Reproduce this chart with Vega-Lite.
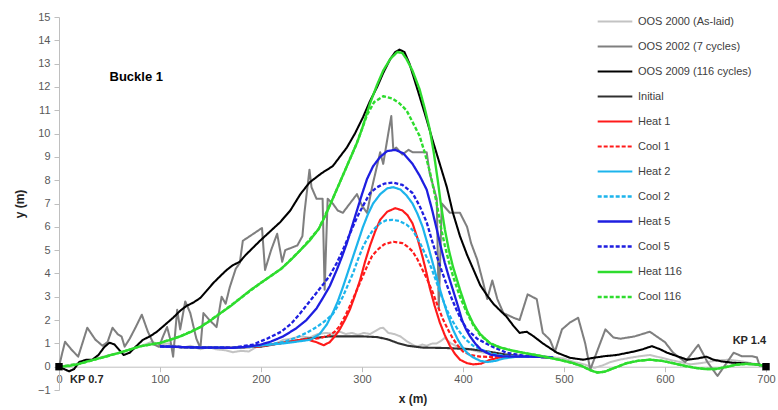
{
  "$schema": "https://vega.github.io/schema/vega-lite/v6.json",
  "width": 707,
  "height": 373,
  "autosize": {"type": "none"},
  "padding": {"left": 59, "top": 17, "right": 12, "bottom": 20},
  "config": {
    "view": {"stroke": null},
    "font": "Liberation Sans",
    "axis": {"labelFont": "Liberation Sans", "titleFont": "Liberation Sans", "labelColor": "#595959", "labelFontSize": 11, "titleFontSize": 12, "titleColor": "#262626", "grid": false, "domainColor": "#bfbfbf", "tickColor": "#bfbfbf", "labelOverlap": false},
    "legend": {"labelFont": "Liberation Sans", "labelFontSize": 11, "labelColor": "#404040"}
  },
  "datasets": {
    "lines": [
      {"s":"OOS 2000 (As-laid)","x":0,"y":0},{"s":"OOS 2000 (As-laid)","x":15,"y":0.1},{"s":"OOS 2000 (As-laid)","x":30,"y":0.25},{"s":"OOS 2000 (As-laid)","x":45,"y":0.45},{"s":"OOS 2000 (As-laid)","x":60,"y":0.6},{"s":"OOS 2000 (As-laid)","x":75,"y":0.8},{"s":"OOS 2000 (As-laid)","x":85,"y":0.95},{"s":"OOS 2000 (As-laid)","x":92,"y":1.07},{"s":"OOS 2000 (As-laid)","x":100,"y":0.95},{"s":"OOS 2000 (As-laid)","x":108,"y":1.0},{"s":"OOS 2000 (As-laid)","x":115,"y":0.85},{"s":"OOS 2000 (As-laid)","x":122,"y":0.8},{"s":"OOS 2000 (As-laid)","x":130,"y":0.9},{"s":"OOS 2000 (As-laid)","x":140,"y":0.75},{"s":"OOS 2000 (As-laid)","x":148,"y":0.85},{"s":"OOS 2000 (As-laid)","x":155,"y":0.75},{"s":"OOS 2000 (As-laid)","x":165,"y":0.7},{"s":"OOS 2000 (As-laid)","x":172,"y":0.62},{"s":"OOS 2000 (As-laid)","x":180,"y":0.68},{"s":"OOS 2000 (As-laid)","x":188,"y":0.65},{"s":"OOS 2000 (As-laid)","x":196,"y":0.86},{"s":"OOS 2000 (As-laid)","x":205,"y":0.9},{"s":"OOS 2000 (As-laid)","x":215,"y":1.0},{"s":"OOS 2000 (As-laid)","x":222,"y":1.15},{"s":"OOS 2000 (As-laid)","x":230,"y":1.2},{"s":"OOS 2000 (As-laid)","x":239,"y":1.3},{"s":"OOS 2000 (As-laid)","x":248,"y":1.25},{"s":"OOS 2000 (As-laid)","x":256,"y":1.4},{"s":"OOS 2000 (As-laid)","x":265,"y":1.45},{"s":"OOS 2000 (As-laid)","x":272,"y":1.4},{"s":"OOS 2000 (As-laid)","x":278,"y":1.5},{"s":"OOS 2000 (As-laid)","x":284,"y":1.4},{"s":"OOS 2000 (As-laid)","x":290,"y":1.45},{"s":"OOS 2000 (As-laid)","x":296,"y":1.37},{"s":"OOS 2000 (As-laid)","x":302,"y":1.45},{"s":"OOS 2000 (As-laid)","x":308,"y":1.4},{"s":"OOS 2000 (As-laid)","x":314,"y":1.55},{"s":"OOS 2000 (As-laid)","x":318,"y":1.65},{"s":"OOS 2000 (As-laid)","x":321,"y":1.67},{"s":"OOS 2000 (As-laid)","x":326,"y":1.45},{"s":"OOS 2000 (As-laid)","x":332,"y":1.4},{"s":"OOS 2000 (As-laid)","x":338,"y":1.3},{"s":"OOS 2000 (As-laid)","x":345,"y":1.07},{"s":"OOS 2000 (As-laid)","x":350,"y":0.95},{"s":"OOS 2000 (As-laid)","x":354,"y":0.86},{"s":"OOS 2000 (As-laid)","x":360,"y":0.95},{"s":"OOS 2000 (As-laid)","x":364,"y":0.9},{"s":"OOS 2000 (As-laid)","x":370,"y":1.0},{"s":"OOS 2000 (As-laid)","x":374,"y":1.0},{"s":"OOS 2000 (As-laid)","x":378,"y":1.1},{"s":"OOS 2000 (As-laid)","x":382,"y":1.24},{"s":"OOS 2000 (As-laid)","x":388,"y":1.0},{"s":"OOS 2000 (As-laid)","x":395,"y":0.85},{"s":"OOS 2000 (As-laid)","x":402,"y":0.8},{"s":"OOS 2000 (As-laid)","x":410,"y":0.7},{"s":"OOS 2000 (As-laid)","x":420,"y":0.6},{"s":"OOS 2000 (As-laid)","x":430,"y":0.55},{"s":"OOS 2000 (As-laid)","x":440,"y":0.5},{"s":"OOS 2000 (As-laid)","x":450,"y":0.5},{"s":"OOS 2000 (As-laid)","x":460,"y":0.45},{"s":"OOS 2000 (As-laid)","x":470,"y":0.5},{"s":"OOS 2000 (As-laid)","x":480,"y":0.45},{"s":"OOS 2000 (As-laid)","x":490,"y":0.4},{"s":"OOS 2000 (As-laid)","x":500,"y":0.35},{"s":"OOS 2000 (As-laid)","x":510,"y":0.2},{"s":"OOS 2000 (As-laid)","x":520,"y":0.1},{"s":"OOS 2000 (As-laid)","x":530,"y":-0.05},{"s":"OOS 2000 (As-laid)","x":538,"y":0.05},{"s":"OOS 2000 (As-laid)","x":546,"y":0.2},{"s":"OOS 2000 (As-laid)","x":555,"y":0.3},{"s":"OOS 2000 (As-laid)","x":565,"y":0.38},{"s":"OOS 2000 (As-laid)","x":575,"y":0.45},{"s":"OOS 2000 (As-laid)","x":585,"y":0.5},{"s":"OOS 2000 (As-laid)","x":595,"y":0.4},{"s":"OOS 2000 (As-laid)","x":604,"y":0.3},{"s":"OOS 2000 (As-laid)","x":615,"y":0.2},{"s":"OOS 2000 (As-laid)","x":625,"y":0.1},{"s":"OOS 2000 (As-laid)","x":635,"y":0.15},{"s":"OOS 2000 (As-laid)","x":645,"y":0.22},{"s":"OOS 2000 (As-laid)","x":655,"y":0.28},{"s":"OOS 2000 (As-laid)","x":664,"y":0.3},{"s":"OOS 2000 (As-laid)","x":677,"y":0.22},{"s":"OOS 2000 (As-laid)","x":691,"y":0.1},{"s":"OOS 2000 (As-laid)","x":700,"y":0.05},

      {"s":"OOS 2002 (7 cycles)","x":0,"y":0},{"s":"OOS 2002 (7 cycles)","x":3,"y":0.55},{"s":"OOS 2002 (7 cycles)","x":6,"y":1.07},{"s":"OOS 2002 (7 cycles)","x":12,"y":0.75},{"s":"OOS 2002 (7 cycles)","x":19,"y":0.43},{"s":"OOS 2002 (7 cycles)","x":28,"y":1.67},{"s":"OOS 2002 (7 cycles)","x":36,"y":1.16},{"s":"OOS 2002 (7 cycles)","x":43,"y":0.9},{"s":"OOS 2002 (7 cycles)","x":48,"y":1.05},{"s":"OOS 2002 (7 cycles)","x":53,"y":1.67},{"s":"OOS 2002 (7 cycles)","x":58,"y":1.4},{"s":"OOS 2002 (7 cycles)","x":62,"y":1.29},{"s":"OOS 2002 (7 cycles)","x":65,"y":0.86},{"s":"OOS 2002 (7 cycles)","x":70,"y":1.2},{"s":"OOS 2002 (7 cycles)","x":76,"y":1.7},{"s":"OOS 2002 (7 cycles)","x":82,"y":2.23},{"s":"OOS 2002 (7 cycles)","x":88,"y":1.5},{"s":"OOS 2002 (7 cycles)","x":94,"y":0.95},{"s":"OOS 2002 (7 cycles)","x":99,"y":0.85},{"s":"OOS 2002 (7 cycles)","x":103,"y":1.3},{"s":"OOS 2002 (7 cycles)","x":107,"y":1.7},{"s":"OOS 2002 (7 cycles)","x":110,"y":1.2},{"s":"OOS 2002 (7 cycles)","x":113,"y":0.43},{"s":"OOS 2002 (7 cycles)","x":117,"y":2.44},{"s":"OOS 2002 (7 cycles)","x":120,"y":1.6},{"s":"OOS 2002 (7 cycles)","x":125,"y":2.8},{"s":"OOS 2002 (7 cycles)","x":130,"y":2.3},{"s":"OOS 2002 (7 cycles)","x":136,"y":1.2},{"s":"OOS 2002 (7 cycles)","x":140,"y":0.8},{"s":"OOS 2002 (7 cycles)","x":143,"y":2.3},{"s":"OOS 2002 (7 cycles)","x":149,"y":2.0},{"s":"OOS 2002 (7 cycles)","x":156,"y":1.7},{"s":"OOS 2002 (7 cycles)","x":161,"y":3.0},{"s":"OOS 2002 (7 cycles)","x":165,"y":2.7},{"s":"OOS 2002 (7 cycles)","x":169,"y":3.4},{"s":"OOS 2002 (7 cycles)","x":175,"y":4.2},{"s":"OOS 2002 (7 cycles)","x":179,"y":4.45},{"s":"OOS 2002 (7 cycles)","x":182,"y":5.4},{"s":"OOS 2002 (7 cycles)","x":189,"y":5.6},{"s":"OOS 2002 (7 cycles)","x":201,"y":5.95},{"s":"OOS 2002 (7 cycles)","x":204,"y":4.15},{"s":"OOS 2002 (7 cycles)","x":210,"y":5.0},{"s":"OOS 2002 (7 cycles)","x":216,"y":5.7},{"s":"OOS 2002 (7 cycles)","x":221,"y":4.5},{"s":"OOS 2002 (7 cycles)","x":224,"y":5.0},{"s":"OOS 2002 (7 cycles)","x":236,"y":5.2},{"s":"OOS 2002 (7 cycles)","x":241,"y":5.6},{"s":"OOS 2002 (7 cycles)","x":243,"y":6.6},{"s":"OOS 2002 (7 cycles)","x":248,"y":8.45},{"s":"OOS 2002 (7 cycles)","x":250,"y":7.7},{"s":"OOS 2002 (7 cycles)","x":255,"y":7.2},{"s":"OOS 2002 (7 cycles)","x":261,"y":7.2},{"s":"OOS 2002 (7 cycles)","x":263,"y":3.3},{"s":"OOS 2002 (7 cycles)","x":266,"y":7.2},{"s":"OOS 2002 (7 cycles)","x":271,"y":7.0},{"s":"OOS 2002 (7 cycles)","x":276,"y":6.7},{"s":"OOS 2002 (7 cycles)","x":281,"y":6.6},{"s":"OOS 2002 (7 cycles)","x":288,"y":7.0},{"s":"OOS 2002 (7 cycles)","x":295,"y":7.4},{"s":"OOS 2002 (7 cycles)","x":300,"y":6.9},{"s":"OOS 2002 (7 cycles)","x":305,"y":6.6},{"s":"OOS 2002 (7 cycles)","x":310,"y":7.7},{"s":"OOS 2002 (7 cycles)","x":318,"y":9.2},{"s":"OOS 2002 (7 cycles)","x":321,"y":8.7},{"s":"OOS 2002 (7 cycles)","x":326,"y":10.0},{"s":"OOS 2002 (7 cycles)","x":329,"y":10.75},{"s":"OOS 2002 (7 cycles)","x":331,"y":9.3},{"s":"OOS 2002 (7 cycles)","x":334,"y":9.4},{"s":"OOS 2002 (7 cycles)","x":340,"y":9.1},{"s":"OOS 2002 (7 cycles)","x":346,"y":9.3},{"s":"OOS 2002 (7 cycles)","x":350,"y":9.2},{"s":"OOS 2002 (7 cycles)","x":364,"y":9.2},{"s":"OOS 2002 (7 cycles)","x":367,"y":8.3},{"s":"OOS 2002 (7 cycles)","x":374,"y":7.2},{"s":"OOS 2002 (7 cycles)","x":376,"y":2.5},{"s":"OOS 2002 (7 cycles)","x":379,"y":7.0},{"s":"OOS 2002 (7 cycles)","x":387,"y":6.6},{"s":"OOS 2002 (7 cycles)","x":397,"y":6.6},{"s":"OOS 2002 (7 cycles)","x":404,"y":6.0},{"s":"OOS 2002 (7 cycles)","x":408,"y":5.3},{"s":"OOS 2002 (7 cycles)","x":414,"y":4.6},{"s":"OOS 2002 (7 cycles)","x":420,"y":3.6},{"s":"OOS 2002 (7 cycles)","x":424,"y":2.9},{"s":"OOS 2002 (7 cycles)","x":429,"y":3.7},{"s":"OOS 2002 (7 cycles)","x":434,"y":2.9},{"s":"OOS 2002 (7 cycles)","x":440,"y":2.3},{"s":"OOS 2002 (7 cycles)","x":450,"y":2.1},{"s":"OOS 2002 (7 cycles)","x":456,"y":2.0},{"s":"OOS 2002 (7 cycles)","x":464,"y":3.1},{"s":"OOS 2002 (7 cycles)","x":473,"y":2.9},{"s":"OOS 2002 (7 cycles)","x":479,"y":1.45},{"s":"OOS 2002 (7 cycles)","x":486,"y":1.16},{"s":"OOS 2002 (7 cycles)","x":491,"y":0.64},{"s":"OOS 2002 (7 cycles)","x":498,"y":1.6},{"s":"OOS 2002 (7 cycles)","x":506,"y":1.9},{"s":"OOS 2002 (7 cycles)","x":514,"y":2.1},{"s":"OOS 2002 (7 cycles)","x":521,"y":1.0},{"s":"OOS 2002 (7 cycles)","x":526,"y":-0.13},{"s":"OOS 2002 (7 cycles)","x":534,"y":0.8},{"s":"OOS 2002 (7 cycles)","x":541,"y":1.6},{"s":"OOS 2002 (7 cycles)","x":549,"y":1.25},{"s":"OOS 2002 (7 cycles)","x":556,"y":1.2},{"s":"OOS 2002 (7 cycles)","x":570,"y":1.3},{"s":"OOS 2002 (7 cycles)","x":585,"y":1.5},{"s":"OOS 2002 (7 cycles)","x":600,"y":1.05},{"s":"OOS 2002 (7 cycles)","x":608,"y":0.6},{"s":"OOS 2002 (7 cycles)","x":620,"y":0.2},{"s":"OOS 2002 (7 cycles)","x":633,"y":0.94},{"s":"OOS 2002 (7 cycles)","x":642,"y":0.2},{"s":"OOS 2002 (7 cycles)","x":652,"y":-0.4},{"s":"OOS 2002 (7 cycles)","x":668,"y":0.6},{"s":"OOS 2002 (7 cycles)","x":676,"y":0.45},{"s":"OOS 2002 (7 cycles)","x":686,"y":0.45},{"s":"OOS 2002 (7 cycles)","x":691,"y":0.4},{"s":"OOS 2002 (7 cycles)","x":694,"y":0.0},

      {"s":"OOS 2009 (116 cycles)","x":0,"y":0},{"s":"OOS 2009 (116 cycles)","x":5,"y":-0.1},{"s":"OOS 2009 (116 cycles)","x":10,"y":-0.2},{"s":"OOS 2009 (116 cycles)","x":15,"y":-0.1},{"s":"OOS 2009 (116 cycles)","x":20,"y":0.2},{"s":"OOS 2009 (116 cycles)","x":27,"y":0.3},{"s":"OOS 2009 (116 cycles)","x":33,"y":0.3},{"s":"OOS 2009 (116 cycles)","x":39,"y":0.5},{"s":"OOS 2009 (116 cycles)","x":45,"y":0.85},{"s":"OOS 2009 (116 cycles)","x":50,"y":1.03},{"s":"OOS 2009 (116 cycles)","x":55,"y":0.95},{"s":"OOS 2009 (116 cycles)","x":60,"y":0.7},{"s":"OOS 2009 (116 cycles)","x":64,"y":0.5},{"s":"OOS 2009 (116 cycles)","x":70,"y":0.6},{"s":"OOS 2009 (116 cycles)","x":77,"y":0.9},{"s":"OOS 2009 (116 cycles)","x":83,"y":1.15},{"s":"OOS 2009 (116 cycles)","x":90,"y":1.3},{"s":"OOS 2009 (116 cycles)","x":97,"y":1.5},{"s":"OOS 2009 (116 cycles)","x":105,"y":1.8},{"s":"OOS 2009 (116 cycles)","x":113,"y":2.1},{"s":"OOS 2009 (116 cycles)","x":120,"y":2.4},{"s":"OOS 2009 (116 cycles)","x":126,"y":2.6},{"s":"OOS 2009 (116 cycles)","x":133,"y":2.75},{"s":"OOS 2009 (116 cycles)","x":140,"y":2.95},{"s":"OOS 2009 (116 cycles)","x":147,"y":3.3},{"s":"OOS 2009 (116 cycles)","x":153,"y":3.6},{"s":"OOS 2009 (116 cycles)","x":160,"y":3.9},{"s":"OOS 2009 (116 cycles)","x":166,"y":4.15},{"s":"OOS 2009 (116 cycles)","x":172,"y":4.35},{"s":"OOS 2009 (116 cycles)","x":179,"y":4.5},{"s":"OOS 2009 (116 cycles)","x":185,"y":4.8},{"s":"OOS 2009 (116 cycles)","x":192,"y":5.1},{"s":"OOS 2009 (116 cycles)","x":199,"y":5.4},{"s":"OOS 2009 (116 cycles)","x":209,"y":5.8},{"s":"OOS 2009 (116 cycles)","x":219,"y":6.2},{"s":"OOS 2009 (116 cycles)","x":229,"y":6.7},{"s":"OOS 2009 (116 cycles)","x":239,"y":7.4},{"s":"OOS 2009 (116 cycles)","x":248,"y":7.9},{"s":"OOS 2009 (116 cycles)","x":260,"y":8.3},{"s":"OOS 2009 (116 cycles)","x":271,"y":8.6},{"s":"OOS 2009 (116 cycles)","x":285,"y":9.4},{"s":"OOS 2009 (116 cycles)","x":293,"y":10.0},{"s":"OOS 2009 (116 cycles)","x":301,"y":10.7},{"s":"OOS 2009 (116 cycles)","x":308,"y":11.4},{"s":"OOS 2009 (116 cycles)","x":315,"y":12.0},{"s":"OOS 2009 (116 cycles)","x":321,"y":12.6},{"s":"OOS 2009 (116 cycles)","x":328,"y":13.2},{"s":"OOS 2009 (116 cycles)","x":333,"y":13.5},{"s":"OOS 2009 (116 cycles)","x":337,"y":13.6},{"s":"OOS 2009 (116 cycles)","x":342,"y":13.5},{"s":"OOS 2009 (116 cycles)","x":347,"y":13.0},{"s":"OOS 2009 (116 cycles)","x":352,"y":12.3},{"s":"OOS 2009 (116 cycles)","x":357,"y":11.6},{"s":"OOS 2009 (116 cycles)","x":364,"y":10.6},{"s":"OOS 2009 (116 cycles)","x":370,"y":9.7},{"s":"OOS 2009 (116 cycles)","x":377,"y":8.7},{"s":"OOS 2009 (116 cycles)","x":384,"y":7.7},{"s":"OOS 2009 (116 cycles)","x":390,"y":6.6},{"s":"OOS 2009 (116 cycles)","x":397,"y":5.6},{"s":"OOS 2009 (116 cycles)","x":404,"y":4.8},{"s":"OOS 2009 (116 cycles)","x":410,"y":4.2},{"s":"OOS 2009 (116 cycles)","x":417,"y":3.5},{"s":"OOS 2009 (116 cycles)","x":424,"y":3.05},{"s":"OOS 2009 (116 cycles)","x":430,"y":2.7},{"s":"OOS 2009 (116 cycles)","x":437,"y":2.4},{"s":"OOS 2009 (116 cycles)","x":443,"y":2.15},{"s":"OOS 2009 (116 cycles)","x":450,"y":1.75},{"s":"OOS 2009 (116 cycles)","x":456,"y":1.45},{"s":"OOS 2009 (116 cycles)","x":463,"y":1.5},{"s":"OOS 2009 (116 cycles)","x":470,"y":1.3},{"s":"OOS 2009 (116 cycles)","x":479,"y":1.0},{"s":"OOS 2009 (116 cycles)","x":486,"y":0.8},{"s":"OOS 2009 (116 cycles)","x":493,"y":0.6},{"s":"OOS 2009 (116 cycles)","x":506,"y":0.38},{"s":"OOS 2009 (116 cycles)","x":519,"y":0.3},{"s":"OOS 2009 (116 cycles)","x":529,"y":0.38},{"s":"OOS 2009 (116 cycles)","x":540,"y":0.45},{"s":"OOS 2009 (116 cycles)","x":552,"y":0.5},{"s":"OOS 2009 (116 cycles)","x":568,"y":0.64},{"s":"OOS 2009 (116 cycles)","x":578,"y":0.75},{"s":"OOS 2009 (116 cycles)","x":587,"y":0.88},{"s":"OOS 2009 (116 cycles)","x":595,"y":0.75},{"s":"OOS 2009 (116 cycles)","x":602,"y":0.6},{"s":"OOS 2009 (116 cycles)","x":612,"y":0.45},{"s":"OOS 2009 (116 cycles)","x":622,"y":0.3},{"s":"OOS 2009 (116 cycles)","x":632,"y":0.35},{"s":"OOS 2009 (116 cycles)","x":641,"y":0.43},{"s":"OOS 2009 (116 cycles)","x":648,"y":0.3},{"s":"OOS 2009 (116 cycles)","x":657,"y":0.22},{"s":"OOS 2009 (116 cycles)","x":667,"y":0.17},{"s":"OOS 2009 (116 cycles)","x":680,"y":0.14},{"s":"OOS 2009 (116 cycles)","x":694,"y":0.08},{"s":"OOS 2009 (116 cycles)","x":700,"y":0},

      {"s":"Initial","x":100,"y":0.87},{"s":"Initial","x":140,"y":0.82},{"s":"Initial","x":172,"y":0.81},{"s":"Initial","x":200,"y":0.86},{"s":"Initial","x":225,"y":1.05},{"s":"Initial","x":245,"y":1.2},{"s":"Initial","x":268,"y":1.3},{"s":"Initial","x":301,"y":1.3},{"s":"Initial","x":315,"y":1.27},{"s":"Initial","x":325,"y":1.18},{"s":"Initial","x":335,"y":1.02},{"s":"Initial","x":345,"y":0.9},{"s":"Initial","x":360,"y":0.82},{"s":"Initial","x":384,"y":0.8},{"s":"Initial","x":407,"y":0.75},{"s":"Initial","x":425,"y":0.65},{"s":"Initial","x":445,"y":0.5},{"s":"Initial","x":465,"y":0.43},{"s":"Initial","x":485,"y":0.4},

      {"s":"Heat 1","x":100,"y":0.87},{"s":"Heat 1","x":140,"y":0.82},{"s":"Heat 1","x":172,"y":0.81},{"s":"Heat 1","x":200,"y":0.88},{"s":"Heat 1","x":225,"y":1.05},{"s":"Heat 1","x":245,"y":1.18},{"s":"Heat 1","x":255,"y":1.05},{"s":"Heat 1","x":262,"y":0.92},{"s":"Heat 1","x":268,"y":1.05},{"s":"Heat 1","x":273,"y":1.3},{"s":"Heat 1","x":278,"y":1.6},{"s":"Heat 1","x":283,"y":2.0},{"s":"Heat 1","x":288,"y":2.45},{"s":"Heat 1","x":293,"y":3.05},{"s":"Heat 1","x":298,"y":3.7},{"s":"Heat 1","x":303,"y":4.5},{"s":"Heat 1","x":308,"y":5.2},{"s":"Heat 1","x":313,"y":5.8},{"s":"Heat 1","x":318,"y":6.3},{"s":"Heat 1","x":325,"y":6.65},{"s":"Heat 1","x":333,"y":6.8},{"s":"Heat 1","x":340,"y":6.7},{"s":"Heat 1","x":345,"y":6.5},{"s":"Heat 1","x":350,"y":6.15},{"s":"Heat 1","x":355,"y":5.5},{"s":"Heat 1","x":360,"y":4.7},{"s":"Heat 1","x":364,"y":4.0},{"s":"Heat 1","x":367,"y":3.4},{"s":"Heat 1","x":372,"y":2.6},{"s":"Heat 1","x":377,"y":1.9},{"s":"Heat 1","x":382,"y":1.35},{"s":"Heat 1","x":387,"y":0.9},{"s":"Heat 1","x":392,"y":0.55},{"s":"Heat 1","x":397,"y":0.3},{"s":"Heat 1","x":404,"y":0.15},{"s":"Heat 1","x":410,"y":0.1},{"s":"Heat 1","x":418,"y":0.13},{"s":"Heat 1","x":427,"y":0.3},{"s":"Heat 1","x":437,"y":0.4},{"s":"Heat 1","x":450,"y":0.43},{"s":"Heat 1","x":470,"y":0.43},{"s":"Heat 1","x":485,"y":0.4},

      {"s":"Cool 1","x":100,"y":0.87},{"s":"Cool 1","x":140,"y":0.82},{"s":"Cool 1","x":172,"y":0.81},{"s":"Cool 1","x":200,"y":0.88},{"s":"Cool 1","x":225,"y":1.05},{"s":"Cool 1","x":245,"y":1.18},{"s":"Cool 1","x":258,"y":1.22},{"s":"Cool 1","x":268,"y":1.35},{"s":"Cool 1","x":273,"y":1.5},{"s":"Cool 1","x":278,"y":1.75},{"s":"Cool 1","x":283,"y":2.15},{"s":"Cool 1","x":288,"y":2.6},{"s":"Cool 1","x":293,"y":3.1},{"s":"Cool 1","x":298,"y":3.6},{"s":"Cool 1","x":305,"y":4.3},{"s":"Cool 1","x":310,"y":4.75},{"s":"Cool 1","x":315,"y":5.0},{"s":"Cool 1","x":322,"y":5.25},{"s":"Cool 1","x":331,"y":5.36},{"s":"Cool 1","x":340,"y":5.3},{"s":"Cool 1","x":345,"y":5.15},{"s":"Cool 1","x":350,"y":4.95},{"s":"Cool 1","x":355,"y":4.6},{"s":"Cool 1","x":360,"y":4.15},{"s":"Cool 1","x":365,"y":3.7},{"s":"Cool 1","x":370,"y":3.2},{"s":"Cool 1","x":375,"y":2.6},{"s":"Cool 1","x":380,"y":2.05},{"s":"Cool 1","x":385,"y":1.6},{"s":"Cool 1","x":390,"y":1.2},{"s":"Cool 1","x":395,"y":0.9},{"s":"Cool 1","x":400,"y":0.65},{"s":"Cool 1","x":408,"y":0.5},{"s":"Cool 1","x":417,"y":0.43},{"s":"Cool 1","x":430,"y":0.42},{"s":"Cool 1","x":450,"y":0.43},{"s":"Cool 1","x":470,"y":0.43},{"s":"Cool 1","x":485,"y":0.4},

      {"s":"Heat 2","x":100,"y":0.87},{"s":"Heat 2","x":140,"y":0.82},{"s":"Heat 2","x":172,"y":0.81},{"s":"Heat 2","x":189,"y":0.86},{"s":"Heat 2","x":205,"y":0.93},{"s":"Heat 2","x":222,"y":1.0},{"s":"Heat 2","x":240,"y":1.1},{"s":"Heat 2","x":249,"y":1.16},{"s":"Heat 2","x":258,"y":1.4},{"s":"Heat 2","x":265,"y":1.8},{"s":"Heat 2","x":271,"y":2.3},{"s":"Heat 2","x":276,"y":2.8},{"s":"Heat 2","x":281,"y":3.4},{"s":"Heat 2","x":286,"y":4.05},{"s":"Heat 2","x":291,"y":4.7},{"s":"Heat 2","x":296,"y":5.35},{"s":"Heat 2","x":301,"y":6.0},{"s":"Heat 2","x":306,"y":6.55},{"s":"Heat 2","x":311,"y":7.0},{"s":"Heat 2","x":318,"y":7.4},{"s":"Heat 2","x":325,"y":7.65},{"s":"Heat 2","x":331,"y":7.7},{"s":"Heat 2","x":338,"y":7.6},{"s":"Heat 2","x":344,"y":7.35},{"s":"Heat 2","x":350,"y":7.0},{"s":"Heat 2","x":355,"y":6.55},{"s":"Heat 2","x":360,"y":6.0},{"s":"Heat 2","x":365,"y":5.25},{"s":"Heat 2","x":370,"y":4.45},{"s":"Heat 2","x":375,"y":3.65},{"s":"Heat 2","x":380,"y":2.9},{"s":"Heat 2","x":385,"y":2.2},{"s":"Heat 2","x":390,"y":1.6},{"s":"Heat 2","x":395,"y":1.15},{"s":"Heat 2","x":400,"y":0.8},{"s":"Heat 2","x":405,"y":0.55},{"s":"Heat 2","x":410,"y":0.4},{"s":"Heat 2","x":417,"y":0.25},{"s":"Heat 2","x":424,"y":0.2},{"s":"Heat 2","x":432,"y":0.25},{"s":"Heat 2","x":440,"y":0.35},{"s":"Heat 2","x":453,"y":0.43},{"s":"Heat 2","x":470,"y":0.43},{"s":"Heat 2","x":485,"y":0.4},

      {"s":"Cool 2","x":100,"y":0.87},{"s":"Cool 2","x":140,"y":0.82},{"s":"Cool 2","x":172,"y":0.81},{"s":"Cool 2","x":189,"y":0.86},{"s":"Cool 2","x":205,"y":0.95},{"s":"Cool 2","x":222,"y":1.05},{"s":"Cool 2","x":235,"y":1.25},{"s":"Cool 2","x":245,"y":1.45},{"s":"Cool 2","x":255,"y":1.7},{"s":"Cool 2","x":263,"y":1.95},{"s":"Cool 2","x":271,"y":2.25},{"s":"Cool 2","x":276,"y":2.6},{"s":"Cool 2","x":281,"y":3.0},{"s":"Cool 2","x":286,"y":3.5},{"s":"Cool 2","x":291,"y":4.0},{"s":"Cool 2","x":296,"y":4.6},{"s":"Cool 2","x":301,"y":5.15},{"s":"Cool 2","x":306,"y":5.55},{"s":"Cool 2","x":311,"y":5.87},{"s":"Cool 2","x":318,"y":6.15},{"s":"Cool 2","x":324,"y":6.28},{"s":"Cool 2","x":330,"y":6.3},{"s":"Cool 2","x":337,"y":6.25},{"s":"Cool 2","x":344,"y":6.1},{"s":"Cool 2","x":350,"y":5.87},{"s":"Cool 2","x":357,"y":5.35},{"s":"Cool 2","x":364,"y":4.7},{"s":"Cool 2","x":369,"y":4.2},{"s":"Cool 2","x":374,"y":3.6},{"s":"Cool 2","x":379,"y":3.0},{"s":"Cool 2","x":384,"y":2.44},{"s":"Cool 2","x":389,"y":2.0},{"s":"Cool 2","x":394,"y":1.65},{"s":"Cool 2","x":399,"y":1.35},{"s":"Cool 2","x":404,"y":1.12},{"s":"Cool 2","x":410,"y":0.9},{"s":"Cool 2","x":420,"y":0.7},{"s":"Cool 2","x":430,"y":0.55},{"s":"Cool 2","x":440,"y":0.47},{"s":"Cool 2","x":459,"y":0.43},{"s":"Cool 2","x":475,"y":0.43},{"s":"Cool 2","x":488,"y":0.4},

      {"s":"Heat 5","x":100,"y":0.87},{"s":"Heat 5","x":140,"y":0.82},{"s":"Heat 5","x":172,"y":0.81},{"s":"Heat 5","x":185,"y":0.85},{"s":"Heat 5","x":199,"y":0.94},{"s":"Heat 5","x":210,"y":1.08},{"s":"Heat 5","x":222,"y":1.3},{"s":"Heat 5","x":235,"y":1.65},{"s":"Heat 5","x":245,"y":2.0},{"s":"Heat 5","x":255,"y":2.5},{"s":"Heat 5","x":262,"y":3.0},{"s":"Heat 5","x":268,"y":3.45},{"s":"Heat 5","x":275,"y":4.15},{"s":"Heat 5","x":280,"y":4.7},{"s":"Heat 5","x":285,"y":5.3},{"s":"Heat 5","x":290,"y":6.0},{"s":"Heat 5","x":295,"y":6.7},{"s":"Heat 5","x":300,"y":7.4},{"s":"Heat 5","x":305,"y":8.05},{"s":"Heat 5","x":311,"y":8.6},{"s":"Heat 5","x":318,"y":9.0},{"s":"Heat 5","x":325,"y":9.25},{"s":"Heat 5","x":333,"y":9.3},{"s":"Heat 5","x":341,"y":9.15},{"s":"Heat 5","x":350,"y":8.7},{"s":"Heat 5","x":357,"y":8.2},{"s":"Heat 5","x":364,"y":7.6},{"s":"Heat 5","x":369,"y":6.8},{"s":"Heat 5","x":374,"y":5.9},{"s":"Heat 5","x":378,"y":5.15},{"s":"Heat 5","x":382,"y":4.45},{"s":"Heat 5","x":386,"y":3.85},{"s":"Heat 5","x":390,"y":3.3},{"s":"Heat 5","x":395,"y":2.6},{"s":"Heat 5","x":399,"y":2.0},{"s":"Heat 5","x":403,"y":1.6},{"s":"Heat 5","x":407,"y":1.3},{"s":"Heat 5","x":412,"y":1.0},{"s":"Heat 5","x":418,"y":0.72},{"s":"Heat 5","x":427,"y":0.52},{"s":"Heat 5","x":437,"y":0.45},{"s":"Heat 5","x":450,"y":0.43},{"s":"Heat 5","x":470,"y":0.43},{"s":"Heat 5","x":485,"y":0.4},

      {"s":"Cool 5","x":100,"y":0.87},{"s":"Cool 5","x":140,"y":0.82},{"s":"Cool 5","x":172,"y":0.81},{"s":"Cool 5","x":179,"y":0.86},{"s":"Cool 5","x":192,"y":0.95},{"s":"Cool 5","x":206,"y":1.2},{"s":"Cool 5","x":220,"y":1.5},{"s":"Cool 5","x":230,"y":1.85},{"s":"Cool 5","x":239,"y":2.3},{"s":"Cool 5","x":250,"y":2.9},{"s":"Cool 5","x":261,"y":3.5},{"s":"Cool 5","x":268,"y":3.9},{"s":"Cool 5","x":275,"y":4.45},{"s":"Cool 5","x":280,"y":4.9},{"s":"Cool 5","x":285,"y":5.4},{"s":"Cool 5","x":290,"y":5.9},{"s":"Cool 5","x":295,"y":6.4},{"s":"Cool 5","x":301,"y":6.9},{"s":"Cool 5","x":308,"y":7.45},{"s":"Cool 5","x":315,"y":7.7},{"s":"Cool 5","x":322,"y":7.85},{"s":"Cool 5","x":331,"y":7.9},{"s":"Cool 5","x":340,"y":7.8},{"s":"Cool 5","x":350,"y":7.45},{"s":"Cool 5","x":357,"y":6.9},{"s":"Cool 5","x":364,"y":6.2},{"s":"Cool 5","x":369,"y":5.45},{"s":"Cool 5","x":374,"y":4.75},{"s":"Cool 5","x":379,"y":4.1},{"s":"Cool 5","x":384,"y":3.5},{"s":"Cool 5","x":389,"y":2.9},{"s":"Cool 5","x":394,"y":2.4},{"s":"Cool 5","x":399,"y":1.95},{"s":"Cool 5","x":404,"y":1.6},{"s":"Cool 5","x":414,"y":1.2},{"s":"Cool 5","x":427,"y":0.9},{"s":"Cool 5","x":443,"y":0.6},{"s":"Cool 5","x":463,"y":0.45},{"s":"Cool 5","x":480,"y":0.42},{"s":"Cool 5","x":490,"y":0.4},

      {"s":"Heat 116","x":0,"y":0},{"s":"Heat 116","x":10,"y":0.03},{"s":"Heat 116","x":20,"y":0.12},{"s":"Heat 116","x":30,"y":0.25},{"s":"Heat 116","x":41,"y":0.37},{"s":"Heat 116","x":50,"y":0.48},{"s":"Heat 116","x":60,"y":0.6},{"s":"Heat 116","x":70,"y":0.73},{"s":"Heat 116","x":80,"y":0.87},{"s":"Heat 116","x":90,"y":0.95},{"s":"Heat 116","x":100,"y":1.02},{"s":"Heat 116","x":110,"y":1.15},{"s":"Heat 116","x":120,"y":1.3},{"s":"Heat 116","x":130,"y":1.48},{"s":"Heat 116","x":140,"y":1.7},{"s":"Heat 116","x":150,"y":1.98},{"s":"Heat 116","x":160,"y":2.3},{"s":"Heat 116","x":170,"y":2.6},{"s":"Heat 116","x":180,"y":2.95},{"s":"Heat 116","x":190,"y":3.3},{"s":"Heat 116","x":200,"y":3.6},{"s":"Heat 116","x":210,"y":3.9},{"s":"Heat 116","x":220,"y":4.2},{"s":"Heat 116","x":230,"y":4.6},{"s":"Heat 116","x":239,"y":5.0},{"s":"Heat 116","x":248,"y":5.4},{"s":"Heat 116","x":257,"y":5.9},{"s":"Heat 116","x":264,"y":6.5},{"s":"Heat 116","x":271,"y":7.2},{"s":"Heat 116","x":278,"y":7.9},{"s":"Heat 116","x":287,"y":8.8},{"s":"Heat 116","x":295,"y":9.6},{"s":"Heat 116","x":300,"y":10.2},{"s":"Heat 116","x":308,"y":11.3},{"s":"Heat 116","x":315,"y":12.1},{"s":"Heat 116","x":321,"y":12.7},{"s":"Heat 116","x":328,"y":13.2},{"s":"Heat 116","x":335,"y":13.5},{"s":"Heat 116","x":340,"y":13.45},{"s":"Heat 116","x":344,"y":13.2},{"s":"Heat 116","x":350,"y":12.7},{"s":"Heat 116","x":357,"y":11.9},{"s":"Heat 116","x":362,"y":11.1},{"s":"Heat 116","x":367,"y":10.2},{"s":"Heat 116","x":371,"y":9.2},{"s":"Heat 116","x":375,"y":8.0},{"s":"Heat 116","x":378,"y":7.0},{"s":"Heat 116","x":382,"y":5.9},{"s":"Heat 116","x":386,"y":5.0},{"s":"Heat 116","x":390,"y":4.3},{"s":"Heat 116","x":397,"y":3.3},{"s":"Heat 116","x":404,"y":2.4},{"s":"Heat 116","x":410,"y":1.85},{"s":"Heat 116","x":417,"y":1.4},{"s":"Heat 116","x":427,"y":1.0},{"s":"Heat 116","x":437,"y":0.82},{"s":"Heat 116","x":448,"y":0.7},{"s":"Heat 116","x":459,"y":0.6},{"s":"Heat 116","x":472,"y":0.5},{"s":"Heat 116","x":486,"y":0.38},{"s":"Heat 116","x":498,"y":0.27},{"s":"Heat 116","x":509,"y":0.15},{"s":"Heat 116","x":518,"y":0.02},{"s":"Heat 116","x":526,"y":-0.15},{"s":"Heat 116","x":533,"y":-0.25},{"s":"Heat 116","x":540,"y":-0.22},{"s":"Heat 116","x":550,"y":-0.05},{"s":"Heat 116","x":562,"y":0.15},{"s":"Heat 116","x":573,"y":0.25},{"s":"Heat 116","x":585,"y":0.3},{"s":"Heat 116","x":597,"y":0.25},{"s":"Heat 116","x":608,"y":0.15},{"s":"Heat 116","x":620,"y":0.03},{"s":"Heat 116","x":630,"y":-0.05},{"s":"Heat 116","x":640,"y":-0.1},{"s":"Heat 116","x":650,"y":-0.1},{"s":"Heat 116","x":660,"y":-0.02},{"s":"Heat 116","x":670,"y":0.08},{"s":"Heat 116","x":680,"y":0.12},{"s":"Heat 116","x":690,"y":0.1},{"s":"Heat 116","x":700,"y":0.03},

      {"s":"Cool 116","x":0,"y":0},{"s":"Cool 116","x":20,"y":0.12},{"s":"Cool 116","x":41,"y":0.37},{"s":"Cool 116","x":60,"y":0.6},{"s":"Cool 116","x":80,"y":0.87},{"s":"Cool 116","x":100,"y":1.02},{"s":"Cool 116","x":120,"y":1.3},{"s":"Cool 116","x":140,"y":1.7},{"s":"Cool 116","x":160,"y":2.3},{"s":"Cool 116","x":180,"y":2.95},{"s":"Cool 116","x":200,"y":3.6},{"s":"Cool 116","x":220,"y":4.2},{"s":"Cool 116","x":239,"y":5.0},{"s":"Cool 116","x":257,"y":5.9},{"s":"Cool 116","x":271,"y":7.2},{"s":"Cool 116","x":287,"y":8.8},{"s":"Cool 116","x":295,"y":9.6},{"s":"Cool 116","x":300,"y":10.2},{"s":"Cool 116","x":305,"y":10.8},{"s":"Cool 116","x":312,"y":11.35},{"s":"Cool 116","x":321,"y":11.6},{"s":"Cool 116","x":330,"y":11.5},{"s":"Cool 116","x":337,"y":11.3},{"s":"Cool 116","x":344,"y":11.0},{"s":"Cool 116","x":350,"y":10.5},{"s":"Cool 116","x":357,"y":9.9},{"s":"Cool 116","x":362,"y":9.2},{"s":"Cool 116","x":367,"y":8.4},{"s":"Cool 116","x":371,"y":7.6},{"s":"Cool 116","x":374,"y":7.0},{"s":"Cool 116","x":378,"y":6.0},{"s":"Cool 116","x":382,"y":5.2},{"s":"Cool 116","x":386,"y":4.5},{"s":"Cool 116","x":390,"y":3.9},{"s":"Cool 116","x":397,"y":3.0},{"s":"Cool 116","x":404,"y":2.3},{"s":"Cool 116","x":410,"y":1.8},{"s":"Cool 116","x":417,"y":1.35},{"s":"Cool 116","x":427,"y":1.0},{"s":"Cool 116","x":437,"y":0.82},{"s":"Cool 116","x":448,"y":0.7},{"s":"Cool 116","x":459,"y":0.6},{"s":"Cool 116","x":472,"y":0.5},{"s":"Cool 116","x":486,"y":0.38},{"s":"Cool 116","x":498,"y":0.27},{"s":"Cool 116","x":509,"y":0.15},{"s":"Cool 116","x":518,"y":0.02},{"s":"Cool 116","x":526,"y":-0.15},{"s":"Cool 116","x":533,"y":-0.25},{"s":"Cool 116","x":540,"y":-0.22},{"s":"Cool 116","x":550,"y":-0.05},{"s":"Cool 116","x":562,"y":0.15},{"s":"Cool 116","x":573,"y":0.25},{"s":"Cool 116","x":585,"y":0.3},{"s":"Cool 116","x":597,"y":0.25},{"s":"Cool 116","x":608,"y":0.15},{"s":"Cool 116","x":620,"y":0.03},{"s":"Cool 116","x":630,"y":-0.05},{"s":"Cool 116","x":640,"y":-0.1},{"s":"Cool 116","x":650,"y":-0.1},{"s":"Cool 116","x":660,"y":-0.02},{"s":"Cool 116","x":670,"y":0.08},{"s":"Cool 116","x":680,"y":0.12},{"s":"Cool 116","x":690,"y":0.1},{"s":"Cool 116","x":700,"y":0.03}
    ],
    "ends": [{"x":0,"y":0},{"x":700,"y":0}],
    "kp": [{"x":11,"y":-0.56,"label":"KP 0.7"},{"x":667,"y":1.11,"label":"KP 1.4"}],
    "title": [{"x":50,"y":12.43,"label":"Buckle 1"}]
  },
  "layer": [
    {
      "data": {"name": "lines"},
      "mark": {"type": "line", "strokeCap": "butt", "strokeJoin": "round"},
      "encoding": {
        "x": {"field": "x", "type": "quantitative", "scale": {"domain": [0, 700], "nice": false, "zero": false},
              "axis": {"title": "x (m)", "values": [0,100,200,300,400,500,600,700], "tickCount": 10, "offset": -23.3, "tickSize": 5, "labelPadding": 2, "titlePadding": 9, "labelFlush": false}},
        "y": {"field": "y", "type": "quantitative", "scale": {"domain": [-1, 15], "nice": false, "zero": false},
              "axis": {"title": "y (m)", "values": [-1,0,1,2,3,4,5,6,7,8,9,10,11,12,13,14,15], "tickCount": 20, "tickSize": 5, "labelPadding": 4, "titlePadding": 11, "labelFlush": false, "labelOverlap": false}},
        "color": {"field": "s", "type": "nominal", "title": null,
          "scale": {"domain": ["OOS 2000 (As-laid)","OOS 2002 (7 cycles)","OOS 2009 (116 cycles)","Initial","Heat 1","Cool 1","Heat 2","Cool 2","Heat 5","Cool 5","Heat 116","Cool 116"],
                    "range": ["#c3c3c3","#7f7f7f","#000000","#303030","#ff1a1a","#ff1a1a","#1cb4ec","#1cb4ec","#1e1ee0","#1e1ee0","#2edc2e","#2edc2e"]},
          "legend": {"orient": "none", "legendX": 537, "legendY": -14, "symbolType": "stroke", "symbolSize": 1200, "rowPadding": 1, "labelOffset": 4}},
        "strokeDash": {"field": "s", "type": "nominal", "title": null,
          "scale": {"domain": ["OOS 2000 (As-laid)","OOS 2002 (7 cycles)","OOS 2009 (116 cycles)","Initial","Heat 1","Cool 1","Heat 2","Cool 2","Heat 5","Cool 5","Heat 116","Cool 116"],
                    "range": [[1,0],[1,0],[1,0],[1,0],[1,0],[4,2],[1,0],[4,2],[1,0],[4,2],[1,0],[4,2]]}},
        "strokeWidth": {"field": "s", "type": "nominal", "title": null,
          "scale": {"domain": ["OOS 2000 (As-laid)","OOS 2002 (7 cycles)","OOS 2009 (116 cycles)","Initial","Heat 1","Cool 1","Heat 2","Cool 2","Heat 5","Cool 5","Heat 116","Cool 116"],
                    "range": [2,2.4,2.9,1.1,1.8,1.8,1.8,1.8,1.8,1.8,1.8,1.8]}}
      }
    },
    {
      "data": {"name": "ends"},
      "mark": {"type": "square", "color": "#000000", "size": 55, "opacity": 1},
      "encoding": {"x": {"field": "x", "type": "quantitative"}, "y": {"field": "y", "type": "quantitative"}}
    },
    {
      "data": {"name": "kp"},
      "mark": {"type": "text", "align": "left", "baseline": "middle", "fontWeight": "bold", "fontSize": 11, "color": "#262626"},
      "encoding": {"x": {"field": "x", "type": "quantitative"}, "y": {"field": "y", "type": "quantitative"}, "text": {"field": "label"}}
    },
    {
      "data": {"name": "title"},
      "mark": {"type": "text", "align": "left", "baseline": "middle", "fontWeight": "bold", "fontSize": 13, "color": "#000000"},
      "encoding": {"x": {"field": "x", "type": "quantitative"}, "y": {"field": "y", "type": "quantitative"}, "text": {"field": "label"}}
    }
  ]
}
